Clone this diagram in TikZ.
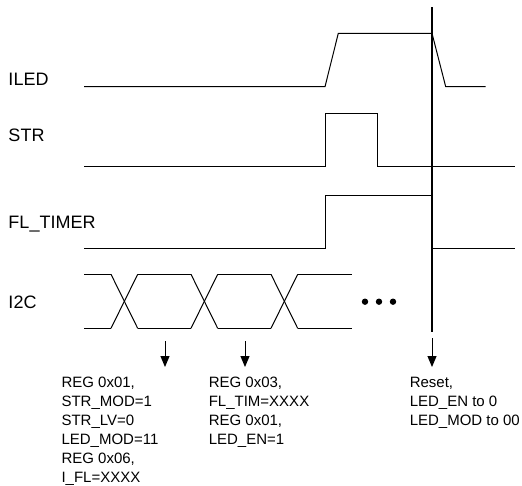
\documentclass[tikz,border=0pt]{standalone}
\usepackage{fontspec}
\setmainfont{Liberation Sans}
\usetikzlibrary{arrows.meta}

\begin{document}
\begin{tikzpicture}[x=1pt, y=-1pt, line width=1pt,
    siglabel/.style={anchor=base west, inner sep=0pt, font=\fontsize{18}{18}\selectfont},
    note/.style={anchor=north west, inner sep=0pt, align=left, font=\fontsize{15}{19}\selectfont},
    event/.style={-{Triangle[length=11pt, width=9pt]}, line width=1pt}]
    \useasboundingbox (0,0) rectangle (522,485);
    \def\tstart{84}
    \def\tend{515}

    % signal names
    \node[siglabel] (iled) at (8,85.7) {ILED};
    \node[siglabel] (str) at (8,141.7) {STR};
    \node[siglabel] (fltimer) at (8,228) {FL\_TIMER};
    \node[siglabel] (itwoc) at (8,308) {I2C};

    % ILED: ramp up, ramp down at reset
    \draw (\tstart,86.7) -- (325,86.7) -- (338.3,33.3) -- (432,33.3) -- (445.7,86.7) -- (485.7,86.7);

    % STR pulse
    \draw (\tstart,166) -- (325,166) -- (325,113.3) -- (377.7,113.3) -- (377.7,166) -- (\tend,166);

    % FL_TIMER
    \draw (\tstart,248.3) -- (325,248.3) -- (325,195.7) -- (432,195.7) -- (432,248.3) -- (\tend,248.3);

    % I2C bus
    \def\hi{274.3}
    \def\lo{328.3}
    \draw (\tstart,\hi) -- (111,\hi);
    \draw (\tstart,\lo) -- (111,\lo);
    \foreach \x in {111,191,271} {
        \draw (\x,\hi) -- (\x+26.7,\lo);
        \draw (\x,\lo) -- (\x+26.7,\hi);
    }
    \foreach \x/\y in {137.7/191,217.7/271,297.7/351.7} {
        \draw (\x,\hi) -- (\y,\hi);
        \draw (\x,\lo) -- (\y,\lo);
    }
    \foreach \x in {365,379,393}
        \fill (\x,301.7) circle (3.2);

    % reset line
    \draw[line width=1.1pt] (432,7) -- (432,331.7);

    % events
    \coordinate (ev1) at (165,341);
    \coordinate (ev1e) at (165,367);
    \coordinate (ev2) at (245,341);
    \coordinate (ev2e) at (245,367);
    \coordinate (ev3) at (432,338);
    \coordinate (ev3e) at (432,367);
    \draw[event] (ev1) -- (ev1e);
    \draw[event] (ev2) -- (ev2e);
    \draw[event] (ev3) -- (ev3e);

    \node[note] (cfg) at (61,377) {REG 0x01,\\STR\_MOD=1\\STR\_LV=0\\LED\_MOD=11\\REG 0x06,\\I\_FL=XXXX};
    \node[note] (enable) at (208.3,377) {REG 0x03,\\FL\_TIM=XXXX\\REG 0x01,\\LED\_EN=1};
    \node[note] (reset) at (409.3,377) {Reset,\\LED\_EN to 0\\LED\_MOD to 00};
\end{tikzpicture}
\end{document}
